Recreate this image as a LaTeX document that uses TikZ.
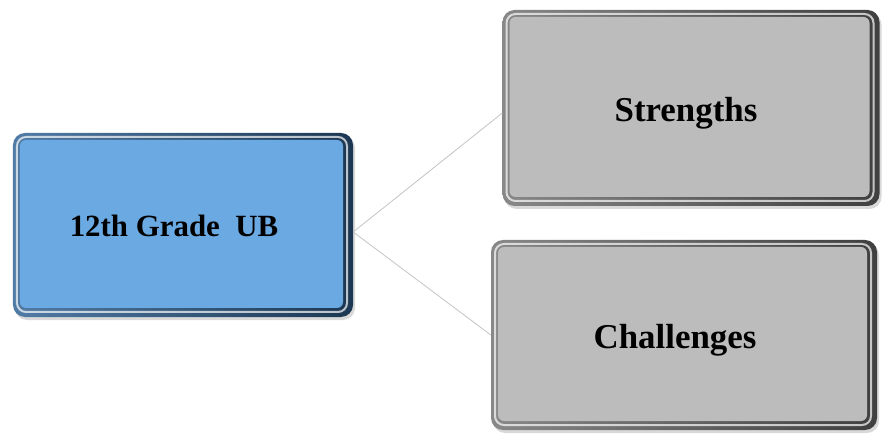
\documentclass[tikz,border=0pt]{standalone}
\usepackage{fontspec}
\setmainfont{Liberation Serif}
\usepackage{tikz}
\usetikzlibrary{shadows}
\definecolor{myblue}{RGB}{106, 169, 226}
\definecolor{myblueedge}{RGB}{50, 100, 150}
\definecolor{mygray}{RGB}{188, 188, 188}
\definecolor{mygrayedge}{RGB}{115, 115, 115}
\definecolor{myline}{RGB}{195, 195, 195}
\tikzset{
  bevelbox/.style 2 args={rectangle, rounded corners=12bp, inner sep=0pt,
    left color=#2!85!white, right color=#2!55!black,
    drop shadow={shadow xshift=2bp, shadow yshift=-3bp, opacity=0.3},
    path picture={
      \draw[white, line width=2bp, opacity=0.7, rounded corners=9bp]
        ([shift={(4bp,-4bp)}]path picture bounding box.north west) rectangle
        ([shift={(-6bp,5bp)}]path picture bounding box.south east);
      \fill[#1, rounded corners=6bp]
        ([shift={(7bp,-7bp)}]path picture bounding box.north west) rectangle
        ([shift={(-10bp,9bp)}]path picture bounding box.south east);
    }},
  link/.style={draw=myline, line width=0.8bp}
}
\begin{document}
\begin{tikzpicture}[x=1bp, y=-1bp]
\useasboundingbox (0,0) rectangle (885,438);
% left box
\node[bevelbox={myblue}{myblueedge}, minimum width=340bp, minimum height=184bp,
  font=\fontsize{31}{36}\selectfont\bfseries] (grade) at (183,225)
  {\raisebox{-1bp}[\height][\depth]{12th Grade\ \ UB}\kern18bp};
% right boxes
\node[bevelbox={mygray}{mygrayedge}, minimum width=377bp, minimum height=196bp,
  font=\fontsize{35}{40}\selectfont\bfseries] (strong) at (691,108)
  {\raisebox{-5bp}[\height][\depth]{Strengths}\kern10bp};
\node[bevelbox={mygray}{mygrayedge}, minimum width=386bp, minimum height=190bp,
  font=\fontsize{35}{40}\selectfont\bfseries] (chall) at (684,335)
  {\raisebox{-5bp}[\height][\depth]{Challenges}\kern18bp};
% connectors
\draw[link] ([yshift=-7bp]grade.east) -- ([yshift=-5bp]strong.west);
\draw[link] ([yshift=-7bp]grade.east) -- (chall.west);
\end{tikzpicture}
\end{document}
